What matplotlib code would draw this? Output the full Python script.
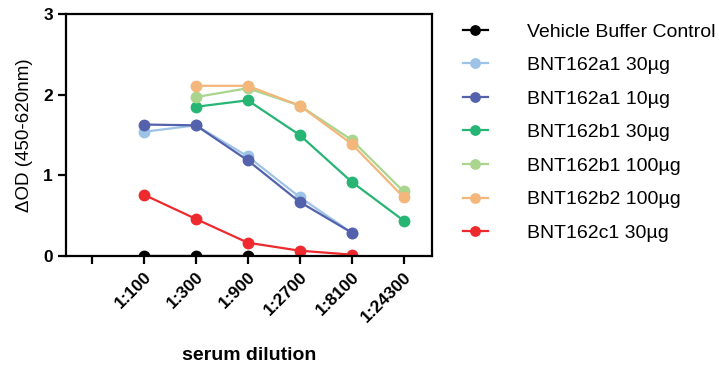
import matplotlib
matplotlib.use('Agg')
import matplotlib.pyplot as plt

plt.rcParams['font.family'] = ['Liberation Sans', 'DejaVu Sans']

dilutions = ['1:100', '1:300', '1:900', '1:2700', '1:8100', '1:24300']
x_pos = [1, 2, 3, 4, 5, 6]

# series: (label, colour, x positions, values)
vehicle = [0.0, 0.0, 0.0]
a1_30 = [1.54, 1.62, 1.235, 0.73, 0.29]
a1_10 = [1.63, 1.62, 1.185, 0.67, 0.29]
b1_30 = [1.85, 1.93, 1.50, 0.92, 0.44]
b1_100 = [1.97, 2.08, 1.865, 1.44, 0.80]
b2_100 = [2.11, 2.11, 1.865, 1.39, 0.73]
c1_30 = [0.76, 0.46, 0.165, 0.066, 0.017]

series = [
    ('Vehicle Buffer Control', '#000000', x_pos[0:3], vehicle),
    ('BNT162a1 30µg', '#9DC3E6', x_pos[0:5], a1_30),
    ('BNT162a1 10µg', '#5461AC', x_pos[0:5], a1_10),
    ('BNT162b1 30µg', '#27B574', x_pos[1:6], b1_30),
    ('BNT162b1 100µg', '#A9D58E', x_pos[1:6], b1_100),
    ('BNT162b2 100µg', '#F3B67B', x_pos[1:6], b2_100),
    ('BNT162c1 30µg', '#EE2A2E', x_pos[0:5], c1_30),
]

fig = plt.figure(figsize=(7.19, 3.65), dpi=100)
ax = fig.add_axes([0.0918, 0.2986, 0.5092, 0.663])

for label, color, xs, ys in series:
    ax.plot(xs, ys, '-o', color=color, label=label, lw=1.6, ms=7.5)

ax.set_xlim(-0.5, 6.55)
ax.set_ylim(0, 3)
ax.set_xticks([0] + x_pos)
ax.set_xticklabels([''] + dilutions, rotation=45, ha='right', rotation_mode='anchor',
                   fontweight='bold', fontsize=12.5)
ax.set_yticks([0, 1, 2, 3])
ax.set_yticklabels(['0', '1', '2', '3'], fontweight='bold', fontsize=12.5)
for s in ax.spines.values():
    s.set_linewidth(1.6)
ax.tick_params(width=1.6, length=6, direction='out')
ax.set_ylabel('ΔOD (450-620nm)', fontsize=13.5, labelpad=7)
ax.set_xlabel('serum dilution', fontweight='bold', fontsize=14, labelpad=16)

fig.legend(loc='upper left', bbox_to_anchor=(0.619, 0.985), frameon=False,
           fontsize=14, handlelength=1.3, handletextpad=2.0, labelspacing=0.82,
           markerscale=0.9)

fig.savefig('out.png', dpi=100)
